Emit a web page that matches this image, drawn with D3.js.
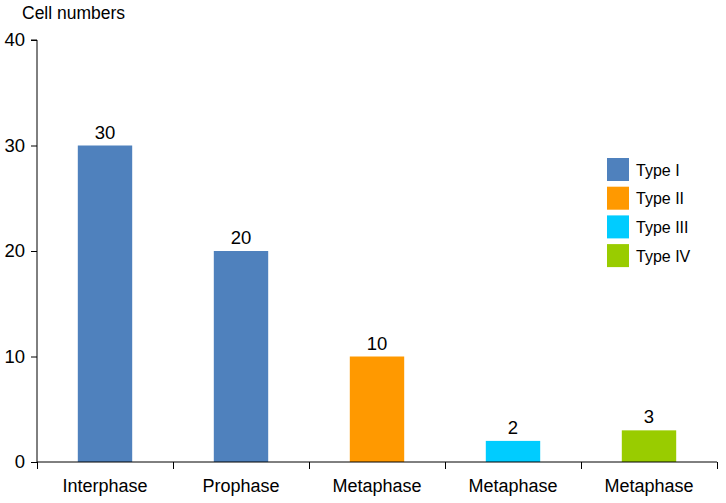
<!DOCTYPE html>
<html><head><meta charset="utf-8">
<script src="https://cdn.jsdelivr.net/npm/d3@7"></script>
<style>body{margin:0;background:#fff}text{font-family:"Liberation Sans",Arial,sans-serif;fill:#000}</style>
</head><body>
<svg id="c" width="726" height="503"></svg>
<script>
const categories = ["Interphase","Prophase","Metaphase","Metaphase","Metaphase"];
const values = [30,20,10,2,3];
const types = ["Type I","Type I","Type II","Type III","Type IV"];
const legendTypes = ["Type I","Type II","Type III","Type IV"];
const legendColors = ["#4F81BD","#FF9900","#00CCFF","#99CC00"];
const yTicks = [0,10,20,30,40];

const svg = d3.select("#c");
const x0 = 37, x1 = 717, yTop = 40, yBot = 462;
const x = d3.scaleBand().domain(d3.range(categories.length)).range([x0,x1]).paddingInner(0.6).paddingOuter(0.3);
const y = d3.scaleLinear().domain([0,40]).range([yBot,yTop]);
const color = d3.scaleOrdinal().domain(legendTypes).range(legendColors);

// bars
svg.selectAll("rect.bar").data(values).enter().append("rect")
  .attr("x",(d,i)=>x(i)).attr("width",x.bandwidth())
  .attr("y",d=>y(d)).attr("height",d=>y(0)-y(d))
  .attr("fill",(d,i)=>color(types[i]));

svg.selectAll("text.val").data(values).enter().append("text")
  .attr("x",(d,i)=>x(i)+x.bandwidth()/2).attr("y",d=>y(d)-7)
  .attr("text-anchor","middle").style("font-size","18.5px").text(d=>d);

// y axis
const yAxis = d3.axisLeft(y).tickValues(yTicks).tickSize(6).tickFormat(d3.format("d"));
const gy = svg.append("g").attr("transform",`translate(${x0},0)`).call(yAxis);
gy.select(".domain").attr("stroke","#000").attr("d",`M-6,${yTop}H0V${yBot}`);
gy.selectAll("text").style("font-size","18.5px").attr("x",-12).attr("fill","#000");
gy.selectAll("line").attr("stroke","#000");

// x axis
const xb = d3.scaleLinear().domain([0,categories.length]).range([x0,x1]);
const gx = svg.append("g").attr("transform",`translate(0,${yBot})`)
  .call(d3.axisBottom(xb).tickValues(d3.range(categories.length+1)).tickSize(7).tickFormat(""));
gx.select(".domain").attr("stroke","#000").attr("d",`M${x0},0H${x1}`);
gx.selectAll("line").attr("stroke","#000");
svg.selectAll("text.cat").data(categories).enter().append("text")
  .attr("x",(d,i)=>x(i)+x.bandwidth()/2).attr("y",yBot+30)
  .attr("text-anchor","middle").style("font-size","18px").text(d=>d);

// axis title
svg.append("text").attr("x",22).attr("y",19).style("font-size","17.5px").text("Cell numbers");

// legend
const lg = svg.append("g");
legendTypes.forEach((t,i)=>{
  const yy = 158 + i*28.7;
  lg.append("rect").attr("x",607).attr("y",yy).attr("width",22).attr("height",23).attr("fill",legendColors[i]);
  lg.append("text").attr("x",636).attr("y",yy+17.5).style("font-size","16px").text(t);
});
</script>
</body></html>
